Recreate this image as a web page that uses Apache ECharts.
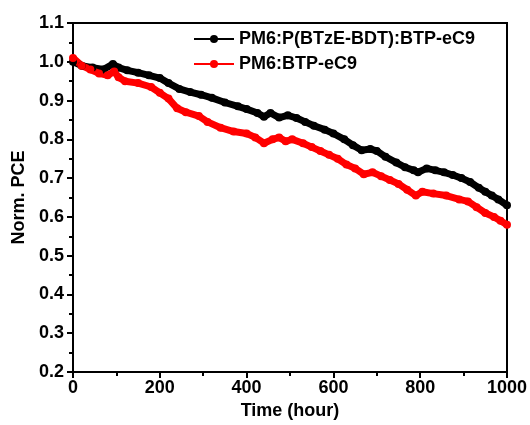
<!DOCTYPE html>
<html>
<head>
<meta charset="utf-8">
<script src="https://cdn.jsdelivr.net/npm/echarts@6/dist/echarts.min.js"></script>
<style>
html, body { margin: 0; padding: 0; background: #fff; }
#main { width: 530px; height: 425px; }
</style>
</head>
<body>
<div id="main"></div>
<script>
// hours and normalised PCE
var hoursBlack = [0, 20, 45, 70, 92, 105, 125, 150, 175, 200, 220, 245, 270, 295, 320, 350, 380, 400, 425, 440, 455, 475, 495, 515, 535, 555, 580, 600, 625, 645, 665, 685, 700, 720, 745, 765, 785, 795, 815, 835, 855, 875, 895, 915, 935, 950, 965, 980, 1000];
var pceBlack = [1.0, 0.99, 0.985, 0.98, 0.994, 0.985, 0.978, 0.972, 0.965, 0.958, 0.945, 0.93, 0.922, 0.915, 0.907, 0.895, 0.885, 0.878, 0.868, 0.858, 0.868, 0.856, 0.862, 0.855, 0.845, 0.835, 0.825, 0.815, 0.8, 0.785, 0.772, 0.775, 0.77, 0.755, 0.74, 0.728, 0.72, 0.715, 0.725, 0.72, 0.715, 0.708, 0.7, 0.69, 0.675, 0.665, 0.655, 0.645, 0.63];

var hoursRed = [0, 20, 40, 60, 80, 95, 105, 120, 150, 180, 200, 220, 240, 260, 290, 310, 340, 370, 400, 420, 440, 460, 475, 490, 505, 530, 550, 570, 590, 610, 630, 650, 670, 690, 710, 730, 750, 770, 790, 805, 830, 860, 890, 910, 930, 950, 970, 985, 1000];
var pceRed = [1.01, 0.99, 0.98, 0.97, 0.965, 0.975, 0.96, 0.95, 0.945, 0.935, 0.92, 0.905, 0.88, 0.87, 0.86, 0.845, 0.83, 0.82, 0.815, 0.805, 0.79, 0.8, 0.805, 0.795, 0.8, 0.79, 0.78, 0.77, 0.76, 0.75, 0.735, 0.725, 0.71, 0.715, 0.705, 0.695, 0.685, 0.67, 0.655, 0.665, 0.66, 0.655, 0.645, 0.64, 0.625, 0.61, 0.6, 0.59, 0.58];

var seriesNames = ['PM6:P(BTzE-BDT):BTP-eC9', 'PM6:BTP-eC9'];

function pairs(xs, ys) {
    return xs.map(function (x, i) { return [x, ys[i]]; });
}

var font = 'Arial, "Liberation Sans", sans-serif';
var labelStyle = { color: '#000', fontSize: 18, fontWeight: 'bold', fontFamily: font };

var myChart = echarts.init(document.getElementById('main'));
var option = {
    animation: false,
    backgroundColor: '#fff',
    grid: {
        left: 73, right: 23, top: 23, bottom: 53,
        outerBoundsMode: 'none',
        show: true,
        borderColor: '#000',
        borderWidth: 2
    },
    legend: {
        data: seriesNames,
        orient: 'vertical',
        left: 188,
        top: 25,
        itemGap: 7,
        itemWidth: 40,
        itemHeight: 10,
        textStyle: labelStyle
    },
    xAxis: {
        type: 'value',
        min: 0, max: 1000, interval: 200,
        name: 'Time (hour)',
        nameLocation: 'middle',
        nameGap: 30,
        nameTextStyle: labelStyle,
        axisLine: { lineStyle: { color: '#000', width: 2 } },
        axisTick: { show: true, inside: false, length: 6, lineStyle: { width: 2 } },
        minorTick: { show: true, splitNumber: 2, length: 4, lineStyle: { color: '#000', width: 2 } },
        splitLine: { show: false },
        axisLabel: Object.assign({ margin: 7, formatter: function (v) { return String(v); } }, labelStyle)
    },
    yAxis: {
        type: 'value',
        min: 0.2, max: 1.1, interval: 0.1,
        name: 'Norm. PCE',
        nameLocation: 'middle',
        nameGap: 44,
        nameTextStyle: labelStyle,
        axisLine: { lineStyle: { color: '#000', width: 2 } },
        axisTick: { show: true, inside: false, length: 6, lineStyle: { width: 2 } },
        minorTick: { show: true, splitNumber: 2, length: 4, lineStyle: { color: '#000', width: 2 } },
        splitLine: { show: false },
        axisLabel: Object.assign({ margin: 9, formatter: function (v) { return v.toFixed(1); } }, labelStyle)
    },
    series: [
        {
            name: seriesNames[0],
            type: 'line',
            data: pairs(hoursBlack, pceBlack),
            color: '#000',
            symbol: 'circle',
            symbolSize: 8,
            lineStyle: { width: 7, color: '#000' }
        },
        {
            name: seriesNames[1],
            type: 'line',
            data: pairs(hoursRed, pceRed),
            color: '#ff0000',
            symbol: 'circle',
            symbolSize: 8,
            lineStyle: { width: 7, color: '#ff0000' }
        }
    ]
};
myChart.setOption(option);
</script>
</body>
</html>
